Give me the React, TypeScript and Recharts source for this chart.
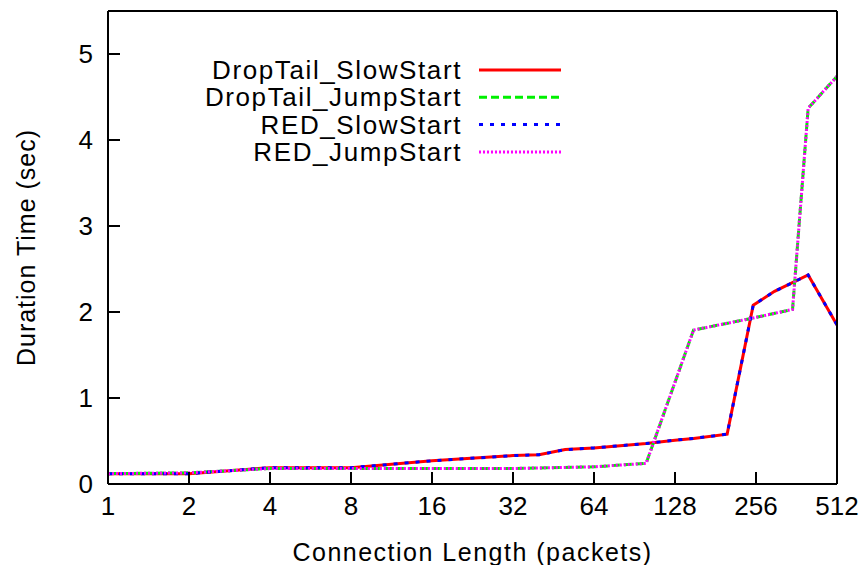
import React from 'react';
import { LineChart, Line, XAxis, YAxis } from 'recharts';

// Tick labels
const lengthTicks = [1, 2, 4, 8, 16, 32, 64, 128, 256, 512];
const durationTicks = [0, 1, 2, 3, 4, 5];

// SlowStart series (connection length in packets -> duration in sec)
const slowStartLengths = [1, 2, 4, 8, 16, 32, 40, 50, 64, 100, 128, 150, 200, 250, 300, 400, 512];
const dropTailSlowStart = [0.12, 0.12, 0.19, 0.19, 0.27, 0.33, 0.34, 0.40, 0.42, 0.47, 0.51, 0.53, 0.58, 2.08, 2.24, 2.43, 1.85];
const redSlowStart = [0.12, 0.12, 0.19, 0.19, 0.27, 0.33, 0.34, 0.40, 0.42, 0.47, 0.51, 0.53, 0.58, 2.08, 2.24, 2.43, 1.85];

// JumpStart series
const jumpStartLengths = [1, 2, 4, 8, 16, 32, 64, 100, 150, 250, 350, 400, 512];
const dropTailJumpStart = [0.12, 0.13, 0.18, 0.18, 0.18, 0.18, 0.20, 0.24, 1.79, 1.93, 2.03, 4.37, 4.74];
const redJumpStart = [0.12, 0.13, 0.18, 0.18, 0.18, 0.18, 0.20, 0.24, 1.79, 1.93, 2.03, 4.37, 4.74];

const toPoints = (xs: number[], ys: number[]) => xs.map((x, i) => ({ x, y: ys[i] }));

const series = [
  { name: 'DropTail_SlowStart', data: toPoints(slowStartLengths, dropTailSlowStart), color: '#ff0000', dash: undefined as string | undefined },
  { name: 'DropTail_JumpStart', data: toPoints(jumpStartLengths, dropTailJumpStart), color: '#00f000', dash: '8 4' },
  { name: 'RED_SlowStart', data: toPoints(slowStartLengths, redSlowStart), color: '#0000ff', dash: '4 7' },
  { name: 'RED_JumpStart', data: toPoints(jumpStartLengths, redJumpStart), color: '#ff00ff', dash: '2 2' },
];

const FONT = '"Liberation Sans", Arial, sans-serif';
const tickStyle = { fill: '#000', fontSize: 26, fontFamily: FONT };

export default function App() {
  return (
    <div style={{ position: 'absolute', left: 0, top: 0, width: 867, height: 565, background: '#fff' }}>
      <LineChart width={867} height={565} margin={{ top: 0, right: 0, bottom: 0, left: 0 }}>
        <XAxis
          xAxisId="bottom"
          dataKey="x"
          type="number"
          scale="log"
          domain={[1, 512]}
          ticks={lengthTicks}
          allowDataOverflow
          height={81}
          tickSize={-12}
          tickMargin={25}
          tick={tickStyle}
          stroke="#000"
          strokeWidth={2}
          axisLine={{ stroke: '#000', strokeWidth: 2 }}
          tickLine={{ stroke: '#000', strokeWidth: 2 }}
          label={{
            value: 'Connection Length (packets)',
            position: 'insideBottom',
            offset: 4,
            style: { fill: '#000', fontSize: 25, fontFamily: FONT, letterSpacing: 1.5 },
          }}
        />
        <XAxis
          xAxisId="top"
          orientation="top"
          dataKey="x"
          type="number"
          scale="log"
          domain={[1, 512]}
          ticks={lengthTicks}
          allowDataOverflow
          height={11}
          tickSize={-12}
          tick={false}
          axisLine={{ stroke: '#000', strokeWidth: 2 }}
          tickLine={{ stroke: '#000', strokeWidth: 2 }}
        />
        <YAxis
          yAxisId="left"
          type="number"
          domain={[0, 5.5]}
          ticks={durationTicks}
          allowDataOverflow
          width={108}
          tickSize={-12}
          tickMargin={27}
          tick={tickStyle}
          axisLine={{ stroke: '#000', strokeWidth: 2 }}
          tickLine={{ stroke: '#000', strokeWidth: 2 }}
          label={{
            value: 'Duration Time (sec)',
            angle: -90,
            position: 'insideLeft',
            offset: 26,
            style: { textAnchor: 'middle', fill: '#000', fontSize: 25, fontFamily: FONT, letterSpacing: 1 },
          }}
        />
        <YAxis
          yAxisId="right"
          orientation="right"
          type="number"
          domain={[0, 5.5]}
          ticks={durationTicks}
          allowDataOverflow
          width={30}
          tickSize={-12}
          tick={false}
          axisLine={{ stroke: '#000', strokeWidth: 2 }}
          tickLine={{ stroke: '#000', strokeWidth: 2 }}
        />
        {series.map((s) => (
          <Line
            key={s.name}
            xAxisId="bottom"
            yAxisId="left"
            data={s.data}
            dataKey="y"
            name={s.name}
            type="linear"
            stroke={s.color}
            strokeWidth={3}
            strokeDasharray={s.dash}
            dot={false}
            activeDot={false}
            legendType="none"
            isAnimationActive={false}
          />
        ))}
      </LineChart>
      <svg
        width={867}
        height={565}
        style={{ position: 'absolute', left: 0, top: 0, pointerEvents: 'none' }}
      >
        {series.map((s, i) => {
          const cy = 70 + i * 27.3;
          return (
            <g key={s.name}>
              <text
                x={462}
                y={cy + 9}
                textAnchor="end"
                style={{ fill: '#000', fontSize: 26, fontFamily: FONT, letterSpacing: 1.6 }}
              >
                {s.name}
              </text>
              <line x1={479} x2={561} y1={cy} y2={cy} stroke={s.color} strokeWidth={3} strokeDasharray={s.dash} />
            </g>
          );
        })}
      </svg>
    </div>
  );
}
